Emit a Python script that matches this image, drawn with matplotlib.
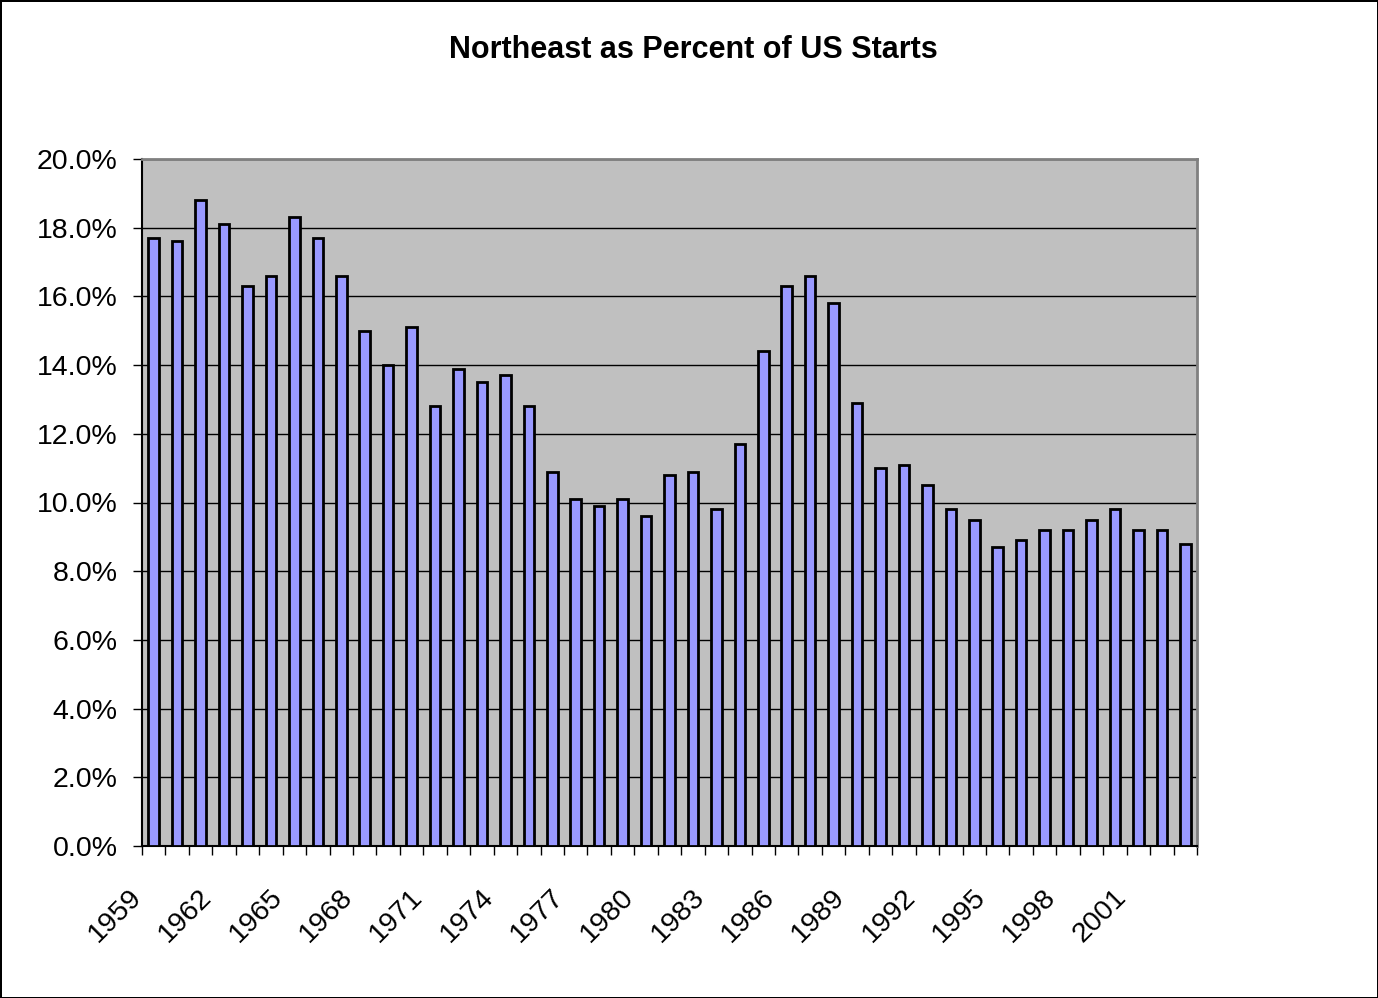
import matplotlib
matplotlib.use('Agg')
import matplotlib.pyplot as plt
import numpy as np
from matplotlib.ticker import FuncFormatter, FixedLocator

plt.rcParams['font.family'] = ['Liberation Sans', 'DejaVu Sans']

# Northeast share of US housing starts, by year
years = list(range(1959, 2004))
share = [17.7, 17.6, 18.8, 18.1, 16.3, 16.6, 18.3, 17.7, 16.6, 15.0,
         14.0, 15.1, 12.8, 13.9, 13.5, 13.7, 12.8, 10.9, 10.1, 9.9,
         10.1, 9.6, 10.8, 10.9, 9.8, 11.7, 14.4, 16.3, 16.6, 15.8,
         12.9, 11.0, 11.1, 10.5, 9.8, 9.5, 8.7, 8.9, 9.2, 9.2,
         9.5, 9.8, 9.2, 9.2, 8.8]
yticks = np.arange(0, 20.1, 2.0)

fig = plt.figure(figsize=(13.78, 9.98), dpi=100)
fig.patch.set_edgecolor('black')
fig.patch.set_linewidth(2)
ax = fig.add_axes([142/1378, 1 - 846/998, (1197-142)/1378, (846-159)/998])
ax.set_facecolor('#C0C0C0')

x = np.arange(len(years))
ax.bar(x, share, width=0.45, color='#9999FF', edgecolor='black', linewidth=2, zorder=3)

ax.set_xlim(-0.5, len(years) - 0.5)
ax.set_ylim(0, 20)
ax.set_yticks(yticks)
ax.yaxis.set_major_formatter(FuncFormatter(lambda v, p: '%.1f%%' % v))
ax.grid(axis='y', color='black', linewidth=1, zorder=1)

# ticks between categories, labels every third year
ax.xaxis.set_major_locator(FixedLocator(np.arange(-0.5, len(years), 1.0)))
ax.set_xticklabels([])
for xi, yr in zip(x[::3], years[::3]):
    ax.annotate(str(yr), xy=(xi, 0), xycoords=('data', 'axes fraction'),
                xytext=(-11.5, -34), textcoords='offset points', rotation=45,
                ha='right', va='center', rotation_mode='anchor', fontsize=20.5,
                annotation_clip=False)
ax.tick_params(axis='x', which='major', length=6.5, width=1, direction='out')
ax.tick_params(axis='y', length=6.5, width=1, labelsize=20.5, pad=11)

for s in ['top', 'right']:
    ax.spines[s].set_color('#808080')
    ax.spines[s].set_linewidth(2)
for s in ['left', 'bottom']:
    ax.spines[s].set_color('black')
    ax.spines[s].set_linewidth(1.5)

fig.text(0.503, 1 - 50/998, 'Northeast as Percent of US Starts', ha='center', va='center',
         fontsize=22, fontweight='bold')

fig.savefig('out.png', dpi=100, edgecolor=fig.get_edgecolor())
